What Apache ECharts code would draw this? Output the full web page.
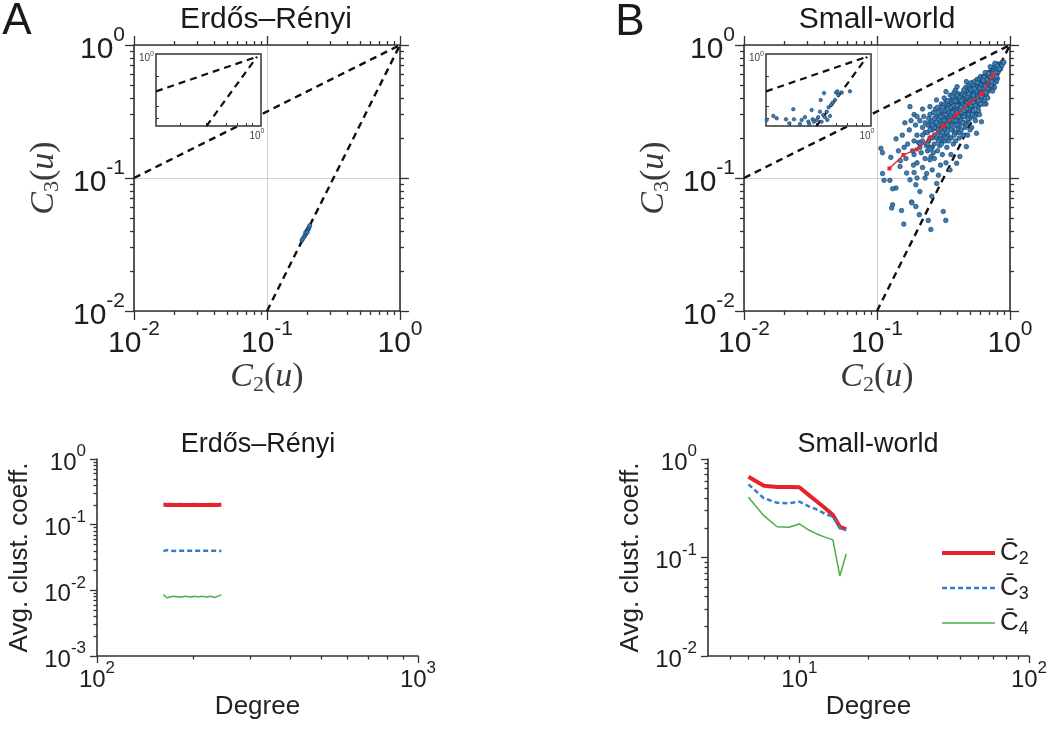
<!DOCTYPE html>
<html>
<head>
    <meta charset="utf-8">
    <title>C2 / C3 clustering</title>
    <script src="https://cdn.jsdelivr.net/npm/echarts@6/dist/echarts.min.js"></script>
    <style>
        html, body { margin: 0; padding: 0; background: #fff; }
        #chart { width: 1061px; height: 736px; }
    </style>
</head>
<body>
<div id="chart"></div>
<script type="text/javascript">
// ---- values ----

// bounds drawn as dashed lines: C3 = C2^0.5 and C3 = C2^2
var boundUpper = [[0.01, 0.1], [1, 1]];
var boundLower = [[0.1, 0.01], [1, 1]];

// Erdos-Renyi: tight cluster of nodes
var erCloud = [[0.183, 0.034], [0.186, 0.035], [0.19, 0.036], [0.193, 0.037], [0.196, 0.038], [0.198, 0.039],
    [0.2, 0.04], [0.202, 0.041], [0.204, 0.041], [0.206, 0.042], [0.208, 0.043], [0.21, 0.044], [0.195, 0.039], [0.201, 0.039]];

// Small-world: binned mean (red line)
var swBinC2 = [0.124, 0.158, 0.199, 0.254, 0.315, 0.398, 0.495, 0.612, 0.748];
var swBinC3 = [0.118, 0.149, 0.164, 0.202, 0.246, 0.301, 0.365, 0.428, 0.595];

// Small-world: node scatter [C2, C3]
var swCloud = [
    [0.19, 0.15], [0.2, 0.21], [0.21, 0.17], [0.22, 0.24], [0.19, 0.19], [0.23, 0.14], [0.21, 0.27], [0.2, 0.13], [0.22, 0.19], [0.23, 0.22],
    [0.195, 0.25], [0.215, 0.155], [0.225, 0.29], [0.205, 0.185], [0.235, 0.175],
    [0.24, 0.16], [0.25, 0.2], [0.26, 0.23], [0.245, 0.28], [0.27, 0.18], [0.255, 0.145], [0.265, 0.31], [0.275, 0.25], [0.24, 0.22], [0.25, 0.26],
    [0.26, 0.17], [0.27, 0.21], [0.28, 0.29], [0.245, 0.19], [0.255, 0.24], [0.265, 0.155], [0.275, 0.33], [0.28, 0.2], [0.24, 0.25], [0.26, 0.27],
    [0.27, 0.14], [0.25, 0.3], [0.28, 0.235], [0.255, 0.17],
    [0.285, 0.16], [0.29, 0.22], [0.3, 0.27], [0.31, 0.19], [0.32, 0.34], [0.33, 0.24], [0.295, 0.3], [0.305, 0.36], [0.315, 0.21], [0.325, 0.28],
    [0.335, 0.17], [0.29, 0.25], [0.3, 0.2], [0.31, 0.31], [0.32, 0.23], [0.33, 0.38], [0.34, 0.29], [0.285, 0.34], [0.295, 0.175], [0.305, 0.24],
    [0.315, 0.26], [0.325, 0.19], [0.335, 0.32], [0.34, 0.21], [0.3, 0.32], [0.31, 0.15], [0.32, 0.4], [0.33, 0.27], [0.29, 0.28], [0.315, 0.35],
    [0.3, 0.23], [0.325, 0.25], [0.34, 0.36], [0.305, 0.18], [0.335, 0.22],
    [0.345, 0.25], [0.35, 0.31], [0.36, 0.2], [0.37, 0.39], [0.38, 0.27], [0.39, 0.34], [0.4, 0.22], [0.41, 0.43], [0.42, 0.3], [0.355, 0.42],
    [0.365, 0.28], [0.375, 0.18], [0.385, 0.37], [0.395, 0.25], [0.405, 0.33], [0.415, 0.2], [0.35, 0.35], [0.36, 0.26], [0.37, 0.23], [0.38, 0.44],
    [0.39, 0.29], [0.4, 0.38], [0.41, 0.27], [0.42, 0.36], [0.345, 0.19], [0.355, 0.29], [0.365, 0.33], [0.375, 0.3], [0.385, 0.22], [0.395, 0.41],
    [0.405, 0.24], [0.415, 0.31], [0.36, 0.37], [0.37, 0.27], [0.38, 0.32], [0.39, 0.19], [0.4, 0.28], [0.41, 0.35], [0.42, 0.25], [0.35, 0.24],
    [0.37, 0.34], [0.39, 0.46], [0.4, 0.31], [0.38, 0.21], [0.36, 0.3], [0.41, 0.39], [0.42, 0.22],
    [0.43, 0.27], [0.44, 0.33], [0.45, 0.4], [0.46, 0.24], [0.47, 0.3], [0.48, 0.45], [0.49, 0.36], [0.5, 0.28], [0.51, 0.42], [0.52, 0.33],
    [0.435, 0.37], [0.445, 0.21], [0.455, 0.31], [0.465, 0.48], [0.475, 0.35], [0.485, 0.26], [0.495, 0.4], [0.505, 0.37], [0.515, 0.24], [0.43, 0.42],
    [0.44, 0.29], [0.45, 0.35], [0.46, 0.38], [0.47, 0.25], [0.48, 0.32], [0.49, 0.5], [0.5, 0.34], [0.51, 0.29], [0.52, 0.47], [0.435, 0.31],
    [0.445, 0.44], [0.455, 0.26], [0.465, 0.34], [0.475, 0.42], [0.485, 0.39], [0.495, 0.31], [0.505, 0.45], [0.515, 0.38], [0.44, 0.36], [0.46, 0.3],
    [0.48, 0.28], [0.5, 0.41], [0.52, 0.36], [0.47, 0.37], [0.49, 0.33], [0.45, 0.46], [0.51, 0.52], [0.43, 0.23], [0.5, 0.23], [0.48, 0.21],
    [0.53, 0.4], [0.54, 0.35], [0.55, 0.47], [0.56, 0.3], [0.57, 0.43], [0.58, 0.52], [0.59, 0.38], [0.6, 0.46], [0.61, 0.55], [0.62, 0.41],
    [0.535, 0.5], [0.545, 0.29], [0.555, 0.38], [0.565, 0.55], [0.575, 0.34], [0.585, 0.45], [0.595, 0.49], [0.605, 0.36], [0.615, 0.48], [0.53, 0.32],
    [0.54, 0.44], [0.55, 0.41], [0.56, 0.49], [0.57, 0.37], [0.58, 0.42], [0.59, 0.56], [0.6, 0.4], [0.61, 0.44], [0.62, 0.52], [0.54, 0.53],
    [0.56, 0.36], [0.58, 0.32], [0.6, 0.51], [0.55, 0.27], [0.57, 0.48], [0.59, 0.3], [0.61, 0.38], [0.53, 0.45], [0.62, 0.47], [0.6, 0.58],
    [0.63, 0.5], [0.64, 0.44], [0.65, 0.56], [0.66, 0.48], [0.67, 0.6], [0.68, 0.52], [0.69, 0.45], [0.7, 0.57], [0.71, 0.63], [0.72, 0.54],
    [0.635, 0.58], [0.645, 0.38], [0.655, 0.52], [0.665, 0.42], [0.675, 0.55], [0.685, 0.62], [0.695, 0.5], [0.705, 0.6], [0.715, 0.49], [0.63, 0.43],
    [0.65, 0.62], [0.67, 0.46], [0.69, 0.57], [0.71, 0.53], [0.64, 0.53], [0.66, 0.58], [0.68, 0.4], [0.7, 0.51], [0.72, 0.62], [0.66, 0.36], [0.63, 0.36],
    [0.73, 0.58], [0.74, 0.66], [0.75, 0.52], [0.76, 0.62], [0.77, 0.7], [0.78, 0.57], [0.79, 0.65], [0.8, 0.61], [0.81, 0.69], [0.82, 0.64],
    [0.83, 0.72], [0.84, 0.68], [0.86, 0.72], [0.88, 0.75], [0.745, 0.56], [0.755, 0.68], [0.765, 0.48], [0.775, 0.64], [0.785, 0.6], [0.795, 0.72],
    [0.805, 0.56], [0.815, 0.66], [0.73, 0.49], [0.75, 0.6], [0.77, 0.55], [0.79, 0.53], [0.81, 0.62], [0.85, 0.66], [0.87, 0.7], [0.9, 0.74], [0.74, 0.45],
    // more of the dense core
    [0.22, 0.21], [0.23, 0.26], [0.24, 0.18], [0.25, 0.23], [0.26, 0.2], [0.27, 0.24], [0.28, 0.26], [0.27, 0.28], [0.26, 0.25], [0.25, 0.165],
    [0.29, 0.19], [0.3, 0.29], [0.31, 0.25], [0.32, 0.27], [0.33, 0.2], [0.34, 0.25], [0.29, 0.31], [0.31, 0.34], [0.32, 0.3], [0.3, 0.21],
    [0.33, 0.3], [0.31, 0.22], [0.34, 0.33], [0.35, 0.27], [0.36, 0.34], [0.37, 0.31], [0.38, 0.35], [0.39, 0.27], [0.4, 0.35], [0.41, 0.29],
    [0.42, 0.33], [0.36, 0.23], [0.38, 0.25], [0.4, 0.25], [0.37, 0.41], [0.39, 0.38], [0.41, 0.41], [0.35, 0.38], [0.4, 0.42], [0.42, 0.4],
    [0.43, 0.34], [0.44, 0.39], [0.45, 0.29], [0.46, 0.35], [0.47, 0.4], [0.48, 0.37], [0.49, 0.3], [0.5, 0.38], [0.51, 0.35], [0.52, 0.39],
    [0.44, 0.26], [0.46, 0.42], [0.48, 0.41], [0.5, 0.47], [0.47, 0.33], [0.45, 0.32], [0.49, 0.43], [0.51, 0.46], [0.52, 0.3], [0.43, 0.38],
    [0.53, 0.37], [0.54, 0.4], [0.55, 0.44], [0.56, 0.42], [0.57, 0.4], [0.58, 0.46], [0.59, 0.42], [0.6, 0.43], [0.61, 0.5], [0.62, 0.44],
    [0.53, 0.42], [0.55, 0.35], [0.57, 0.52], [0.59, 0.47], [0.61, 0.41], [0.56, 0.45], [0.58, 0.38], [0.6, 0.36], [0.54, 0.47], [0.62, 0.56],
    [0.63, 0.47], [0.64, 0.5], [0.65, 0.45], [0.66, 0.52], [0.67, 0.5], [0.68, 0.56], [0.69, 0.53], [0.7, 0.48], [0.71, 0.58], [0.72, 0.5],
    [0.64, 0.57], [0.66, 0.44], [0.68, 0.47], [0.7, 0.61], [0.65, 0.49], [0.67, 0.55], [0.69, 0.61], [0.63, 0.54],
    [0.74, 0.55], [0.75, 0.64], [0.76, 0.58], [0.77, 0.6], [0.78, 0.66], [0.8, 0.66], [0.82, 0.68], [0.74, 0.61], [0.76, 0.52], [0.78, 0.62],
    [0.8, 0.7], [0.83, 0.66], [0.73, 0.53], [0.79, 0.58],
    // sparse part and outliers
    [0.107, 0.167], [0.11, 0.108], [0.127, 0.143], [0.139, 0.197], [0.131, 0.063], [0.153, 0.057], [0.139, 0.084], [0.125, 0.096], [0.177, 0.344],
    [0.162, 0.26], [0.177, 0.097], [0.196, 0.089], [0.21, 0.079], [0.182, 0.066], [0.196, 0.061], [0.243, 0.048], [0.315, 0.056], [0.258, 0.073],
    [0.149, 0.122], [0.188, 0.125], [0.167, 0.109], [0.236, 0.108], [0.281, 0.091], [0.354, 0.115], [0.21, 0.182], [0.25, 0.137], [0.397, 0.129],
    [0.42, 0.145], [0.47, 0.172], [0.56, 0.217], [0.61, 0.265], [0.25, 0.344], [0.28, 0.386], [0.33, 0.446], [0.4, 0.486], [0.47, 0.53],
    [0.71, 0.687], [0.77, 0.73], [0.254, 0.041], [0.329, 0.048], [0.159, 0.045], [0.129, 0.0595], [0.11, 0.155], [0.113, 0.096], [0.131, 0.083],
    [0.183, 0.065], [0.208, 0.053], [0.145, 0.16], [0.155, 0.21], [0.165, 0.14], [0.17, 0.18], [0.175, 0.23], [0.185, 0.16], [0.16, 0.17],
    [0.15, 0.135], [0.18, 0.27], [0.19, 0.11], [0.2, 0.1], [0.22, 0.12], [0.23, 0.1], [0.26, 0.115], [0.3, 0.125], [0.33, 0.13], [0.36, 0.15],
    [0.29, 0.105], [0.34, 0.38], [0.22, 0.33], [0.19, 0.3], [0.2, 0.29]
];

// Small-world inset points
var swInset = [[0.0103, 0.015], [0.014, 0.0195], [0.0163, 0.0167], [0.0249, 0.0156], [0.029, 0.012], [0.0347, 0.0305], [0.0358, 0.0156],
    [0.047, 0.0114], [0.051, 0.015], [0.059, 0.018], [0.069, 0.0133], [0.072, 0.0114], [0.08, 0.029], [0.084, 0.0156], [0.089, 0.0133],
    [0.101, 0.015], [0.108, 0.018], [0.117, 0.026], [0.121, 0.0566], [0.126, 0.0133], [0.136, 0.0209], [0.141, 0.089], [0.147, 0.018],
    [0.159, 0.026], [0.164, 0.015], [0.174, 0.0348], [0.185, 0.0195], [0.194, 0.0405], [0.209, 0.0473], [0.233, 0.0566], [0.244, 0.0924],
    [0.259, 0.1], [0.27, 0.079], [0.316, 0.092], [0.46, 0.1]];

// average clustering vs degree, Erdos-Renyi
var erDeg = [161, 165, 169, 173, 177, 181, 185, 189, 193, 197, 201, 205, 209, 213, 217, 221, 225, 229, 233, 237, 241, 244];
var erAvgC2 = [0.202, 0.2, 0.201, 0.199, 0.2, 0.201, 0.2, 0.2, 0.199, 0.2, 0.201, 0.2, 0.2, 0.2, 0.199, 0.2, 0.201, 0.2, 0.2, 0.2, 0.201, 0.202];
var erAvgC3 = [0.0395, 0.041, 0.04, 0.0398, 0.04, 0.0402, 0.04, 0.0399, 0.04, 0.0401, 0.04, 0.0399, 0.04, 0.04, 0.0401, 0.04, 0.0399, 0.04, 0.0401, 0.04, 0.0398, 0.0402];
var erAvgC4 = [0.0086, 0.0077, 0.0079, 0.0081, 0.008, 0.0079, 0.008, 0.0081, 0.008, 0.0079, 0.0081, 0.008, 0.008, 0.0081, 0.008, 0.0079, 0.0081, 0.008, 0.0078, 0.0081, 0.0083, 0.0086];

// average clustering vs degree, small-world
var swDeg = [6, 7, 8, 9, 10, 11, 12, 13, 14, 15, 16];
var swAvgC2 = [0.66, 0.536, 0.52, 0.52, 0.516, 0.43, 0.366, 0.314, 0.27, 0.205, 0.193];
var swAvgC3 = [0.553, 0.40, 0.36, 0.355, 0.369, 0.33, 0.305, 0.275, 0.26, 0.198, 0.19];
var swAvgC4 = [0.408, 0.266, 0.205, 0.203, 0.219, 0.19, 0.172, 0.16, 0.151, 0.065, 0.109];

var legendNames = ['C2', 'C3', 'C4'];

// ---- drawing ----
var ink = '#333333';
var sans = '"Liberation Sans", Arial, sans-serif';
var serif = '"Liberation Serif", "Times New Roman", serif';

function zip(xs, ys) {
    return xs.map(function (x, i) { return [x, ys[i]]; });
}

// decade ticks and 2..9 minor ticks between two exponents
function decadeTicks(lo, hi) {
    var out = [];
    for (var e = lo; e <= hi; e++) out.push(+Math.pow(10, e).toPrecision(3));
    return out;
}
function minorTicks(lo, hi, from, to) {
    var out = [];
    for (var e = lo; e <= hi; e++) {
        for (var m = 2; m <= 9; m++) {
            var v = +(m * Math.pow(10, e)).toPrecision(3);
            if (v >= from && v <= to) out.push(v);
        }
    }
    return out;
}

function pow10Label(v) {
    var e = Math.round(Math.log(v) / Math.LN10);
    if (Math.abs(Math.log(v) / Math.LN10 - e) > 1e-6) return '';
    return '{b|10}{p|' + e + '}';
}
// "10" sits at the bottom of a tall line, the exponent at its top
function labelStyle(big, small, lh, margin, values) {
    return {
        show: true, margin: margin, customValues: values, formatter: pow10Label,
        rich: {
            b: { fontSize: big, lineHeight: lh, verticalAlign: 'bottom', fontFamily: sans, color: '#1e1e1e' },
            p: { fontSize: small, lineHeight: small, verticalAlign: 'top', fontFamily: sans, color: '#1e1e1e' }
        }
    };
}

var mathName = {
    rich: {
        i: { fontFamily: serif, fontStyle: 'italic', fontSize: 34, lineHeight: 38, color: '#3a3a3a' },
        r: { fontFamily: serif, fontSize: 34, lineHeight: 38, color: '#3a3a3a' },
        s: { fontFamily: serif, fontSize: 22, lineHeight: 22, verticalAlign: 'bottom', color: '#3a3a3a' }
    }
};
var plainName = { fontFamily: sans, fontSize: 26, lineHeight: 30, color: '#222' };

var xAxes = [], yAxes = [];
function axis(list, o) {
    list.push({
        type: 'log', logBase: 10, gridIndex: o.grid, position: o.pos, min: o.min, max: o.max,
        z: o.z || 0,
        axisLine: { show: !!o.line, onZero: false, lineStyle: { color: ink, width: o.lw || 1.6 } },
        axisTick: { show: !!o.ticks, inside: !!o.inside, length: o.len || 4, customValues: o.ticks,
            lineStyle: { color: ink, width: o.tw || 1.3 } },
        minorTick: { show: false },
        axisLabel: o.label || { show: false },
        splitLine: { show: !!o.split, lineStyle: { color: '#cfcfcf', width: 1 } },
        name: o.name || '', nameLocation: 'middle', nameGap: o.nameGap || 0,
        nameTextStyle: o.nameStyle || {}, nameMoveOverlap: false
    });
    return list.length - 1;
}

// square panel with frame on four sides
function framedPanel(g, xName, yName) {
    var dec = decadeTicks(-2, 0), mn = minorTicks(-2, -1, 0.01, 1);
    var base = { grid: g, min: 0.01, max: 1 };
    var ix = axis(xAxes, Object.assign({ pos: 'bottom', line: true, ticks: dec, len: 9, split: true,
        label: labelStyle(30, 21, 40, 8, dec), name: xName, nameGap: 47, nameStyle: mathName }, base));
    axis(xAxes, Object.assign({ pos: 'bottom', ticks: mn, len: 4 }, base));
    axis(xAxes, Object.assign({ pos: 'top', line: true, ticks: dec, len: 9 }, base));
    axis(xAxes, Object.assign({ pos: 'top', ticks: mn, len: 4 }, base));
    var iy = axis(yAxes, Object.assign({ pos: 'left', line: true, ticks: dec, len: 9, split: true,
        label: labelStyle(30, 21, 40, 9, dec), name: yName, nameGap: 71, nameStyle: mathName }, base));
    axis(yAxes, Object.assign({ pos: 'left', ticks: mn, len: 4 }, base));
    axis(yAxes, Object.assign({ pos: 'right', line: true, ticks: dec, len: 9 }, base));
    axis(yAxes, Object.assign({ pos: 'right', ticks: mn, len: 4 }, base));
    return [ix, iy];
}

// small inset, frame comes from the grid border
function insetPanel(g) {
    var one = [1];
    var lab = {
        show: true, margin: 2, customValues: one, formatter: pow10Label,
        rich: {
            b: { fontSize: 10, lineHeight: 13, verticalAlign: 'bottom', fontFamily: sans, color: '#444' },
            p: { fontSize: 7, lineHeight: 7, verticalAlign: 'top', fontFamily: sans, color: '#444' }
        }
    };
    var ix = axis(xAxes, { grid: g, pos: 'bottom', min: 0.01, max: 1.2, z: 6, inside: true, len: 3, tw: 1,
        ticks: [0.03, 0.1, 0.25, 0.4, 0.6, 0.8], label: lab });
    var iy = axis(yAxes, { grid: g, pos: 'left', min: 0.01, max: 1.2, z: 6, inside: true, len: 3, tw: 1,
        ticks: [0.017, 0.038, 0.11, 0.27], label: lab });
    return [ix, iy];
}

// open panel (left and bottom axis only)
function openPanel(g, xmin, xmax, xdec, xmn, ymin, ymax, ydec, ymn) {
    var ix = axis(xAxes, { grid: g, pos: 'bottom', min: xmin, max: xmax, line: true, ticks: xdec, len: 7,
        label: labelStyle(24, 17, 32, 4, xdec), name: 'Degree', nameGap: 36, nameStyle: plainName });
    axis(xAxes, { grid: g, pos: 'bottom', min: xmin, max: xmax, ticks: xmn, len: 3.5 });
    var iy = axis(yAxes, { grid: g, pos: 'left', min: ymin, max: ymax, line: true, ticks: ydec, len: 7,
        label: labelStyle(24, 17, 32, 11, ydec), name: 'Avg. clust. coeff.', nameGap: 62, nameStyle: plainName });
    axis(yAxes, { grid: g, pos: 'left', min: ymin, max: ymax, ticks: ymn, len: 3.5 });
    return [ix, iy];
}

var grids = [
    { left: 134, top: 45, width: 266, height: 266 },
    { left: 156, top: 54, width: 105, height: 72, show: true, z: 5, backgroundColor: '#fff', borderColor: ink, borderWidth: 1.5 },
    { left: 744, top: 45, width: 266, height: 266 },
    { left: 766, top: 54, width: 105, height: 72, show: true, z: 5, backgroundColor: '#fff', borderColor: ink, borderWidth: 1.5 },
    { left: 97, top: 459, width: 321, height: 197 },
    { left: 708, top: 459, width: 321, height: 197 }
].map(function (g) { g.outerBoundsMode = 'none'; g.containLabel = false; return g; });

var c2Name = '{i|C}{s|2}{r|(}{i|u}{r|)}';
var c3Name = '{i|C}{s|3}{r|(}{i|u}{r|)}';

var pA = framedPanel(0, c2Name, c3Name);
var pAi = insetPanel(1);
var pB = framedPanel(2, c2Name, c3Name);
var pBi = insetPanel(3);
var pC = openPanel(4, 100, 1000, decadeTicks(2, 3), minorTicks(2, 2, 100, 1000),
    0.001, 1, decadeTicks(-3, 0), minorTicks(-3, -1, 0.001, 1));
var pD = openPanel(5, 4, 100, decadeTicks(1, 2), minorTicks(0, 1, 4.5, 100),
    0.01, 1, decadeTicks(-2, 0), minorTicks(-2, -1, 0.01, 1));

function dashed(p, data, z, w) {
    return { type: 'line', xAxisIndex: p[0], yAxisIndex: p[1], data: data, symbol: 'none', z: z, silent: true,
        lineStyle: { color: '#111', width: w, type: [7, 5] } };
}
function dots(p, data, z, size) {
    return { type: 'scatter', xAxisIndex: p[0], yAxisIndex: p[1], data: data, z: z, symbolSize: size, silent: true,
        itemStyle: { color: '#3580bd', borderColor: '#1d3550', borderWidth: 0.6, opacity: 1 } };
}
var red = '#e5232a', blue = '#3a7fc1', green = '#4aaf46';
function avgLine(p, name, xs, ys, color, w, type) {
    return { type: 'line', name: name, xAxisIndex: p[0], yAxisIndex: p[1], data: zip(xs, ys), symbol: 'none',
        z: 3, silent: true, lineStyle: { color: color, width: w, type: type || 'solid' }, itemStyle: { color: color } };
}

var series = [
    dashed(pA, boundUpper, 2, 2.4), dashed(pA, boundLower, 2, 2.4), dots(pA, erCloud, 3, 4),
    dashed(pAi, boundUpper, 7, 2.2), dashed(pAi, boundLower, 7, 2.2),
    dashed(pB, boundUpper, 2, 2.4), dashed(pB, boundLower, 2, 2.4), dots(pB, swCloud, 3, 4.6),
    { type: 'line', xAxisIndex: pB[0], yAxisIndex: pB[1], data: zip(swBinC2, swBinC3), z: 4, silent: true,
        symbol: 'rect', symbolSize: 4, lineStyle: { color: '#e8262a', width: 1.4 }, itemStyle: { color: '#e8262a' } },
    dashed(pBi, boundUpper, 7, 2.2), dashed(pBi, boundLower, 7, 2.2), dots(pBi, swInset, 8, 3.5),
    avgLine(pC, 'er2', erDeg, erAvgC2, red, 4),
    avgLine(pC, 'er3', erDeg, erAvgC3, blue, 2.5, [5, 3]),
    avgLine(pC, 'er4', erDeg, erAvgC4, green, 1.5),
    avgLine(pD, legendNames[0], swDeg, swAvgC2, red, 4),
    avgLine(pD, legendNames[1], swDeg, swAvgC3, blue, 2.5, [5, 3]),
    avgLine(pD, legendNames[2], swDeg, swAvgC4, green, 1.5)
];

function label(text, x, y, size) {
    return { type: 'text', x: x, y: y, silent: true,
        style: { text: text, fontSize: size, fontFamily: sans, fill: '#1a1a1a',
            align: 'center', verticalAlign: 'middle', textAlign: 'center', textVerticalAlign: 'middle' } };
}

var myChart = echarts.init(document.getElementById('chart'), null, { renderer: 'canvas' });
myChart.setOption({
    animation: false,
    backgroundColor: '#fff',
    textStyle: { fontFamily: sans },
    grid: grids,
    xAxis: xAxes,
    yAxis: yAxes,
    legend: {
        data: legendNames, orient: 'vertical', left: 940, top: 540, padding: 0,
        itemWidth: 53, itemHeight: 12, itemGap: 7, selectedMode: false,
        itemStyle: { opacity: 0 }, lineStyle: { width: 'inherit', type: 'inherit' },
        formatter: function (n) { return '{c|C\u0304}{s|' + n.slice(1) + '}'; },
        textStyle: {
            rich: {
                c: { fontSize: 26, lineHeight: 30, fontFamily: sans, color: '#222' },
                s: { fontSize: 18, lineHeight: 18, verticalAlign: 'bottom', fontFamily: sans, color: '#222' }
            }
        }
    },
    graphic: [
        label('A', 17, 22, 44), label('B', 630, 23, 44),
        label('Erdős–Rényi', 266, 20, 30), label('Small-world', 877, 20, 30),
        label('Erdős–Rényi', 258, 445, 27), label('Small-world', 868, 445, 27)
    ],
    series: series
});
</script>
</body>
</html>
